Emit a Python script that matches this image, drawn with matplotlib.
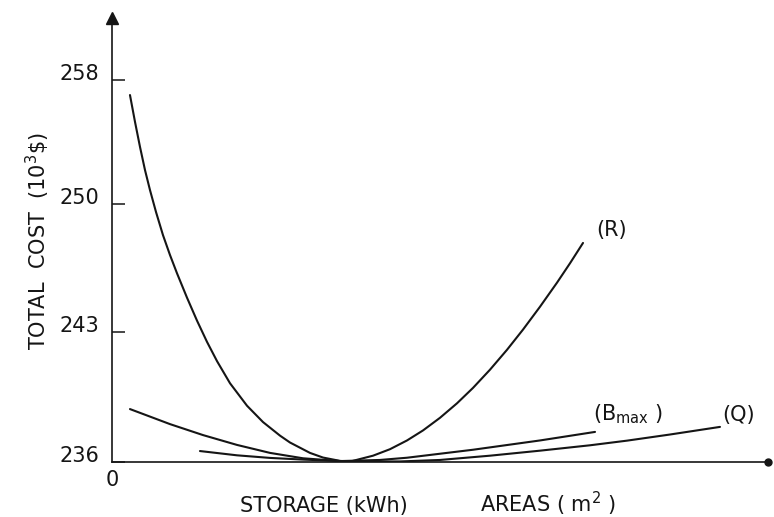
import numpy as np
import matplotlib
matplotlib.use("Agg")
import matplotlib.pyplot as plt

# x in arbitrary storage/area units (0..100), y in 10^3 $
r_x = [2.74, 3.51, 4.27, 5.03, 5.79, 6.71, 7.77, 8.84, 9.91, 11.43, 12.96, 14.48, 16.01, 17.99,
       20.58, 23.02, 25.61, 27.13, 30.18, 32.16, 34.76, 36.28,
       37.80, 39.79, 42.38, 44.97, 47.41, 50.00, 52.59, 55.03, 57.62, 60.21, 62.65, 65.24,
       67.84, 69.82, 71.80]
r_y = [257.03, 255.29, 253.68, 252.19, 250.90, 249.56, 248.30, 247.21, 246.21, 244.88, 243.62, 242.47,
       241.43, 240.24, 239.03, 238.15, 237.42, 237.05, 236.49, 236.24, 236.06, 236.02,
       236.16, 236.34, 236.69, 237.16, 237.70, 238.38, 239.16, 239.99, 240.97, 242.04, 243.13,
       244.38, 245.70, 246.76, 247.87]

bmax_x = [2.74, 8.84, 13.87, 19.05, 24.09, 29.12, 34.76, 40.85, 44.97, 55.03, 65.24, 73.63]
bmax_y = [238.85, 238.04, 237.45, 236.92, 236.49, 236.20, 236.05, 236.11, 236.23, 236.66, 237.16, 237.62]

q_x = [13.41, 19.05, 24.09, 29.12, 36.28, 43.90, 50.00, 57.62, 65.24, 72.87, 78.51, 85.06, 92.68]
q_y = [236.59, 236.36, 236.22, 236.13, 236.03, 236.03, 236.11, 236.34, 236.61, 236.90, 237.15,
       237.48, 237.89]

y_ticks = [236, 243, 250, 258]

# the hand drawn axis is not evenly scaled, ticks sit nearly equally spaced
YV = [220, 236, 243, 250, 258, 275]
YP = [-297, 0, 130, 258, 382, 645.5]


def fwd(v):
    return np.interp(v, YV, YP)


def inv(p):
    return np.interp(p, YP, YV)


plt.rcParams['font.family'] = 'DejaVu Sans'
ink = '#151515'
fs = 15

fig = plt.figure(figsize=(7.74, 5.17), dpi=100)
ax = fig.add_axes([112 / 774, 55 / 517, 656 / 774, 444 / 517])
ax.set_yscale('function', functions=(fwd, inv))
ax.set_xlim(0, 100)
ax.set_ylim(236, inv(444))

for xs, ys in [(r_x, r_y), (bmax_x, bmax_y), (q_x, q_y)]:
    ax.plot(xs, ys, color=ink, lw=1.5, solid_capstyle='round', solid_joinstyle='round')

for s in ['top', 'right']:
    ax.spines[s].set_visible(False)
for s in ['left', 'bottom']:
    ax.spines[s].set_linewidth(1.2)
    ax.spines[s].set_color(ink)

ax.set_yticks(y_ticks)
ax.set_yticklabels([str(t) for t in y_ticks])
ax.yaxis.set_minor_locator(plt.NullLocator())
ax.tick_params(axis='y', direction='in', length=9, width=1.1, pad=9, labelsize=fs, colors=ink)
for lab in ax.get_yticklabels():
    lab.set_verticalalignment('baseline')
ax.set_xticks([0])
ax.set_xticklabels(['0'])
ax.tick_params(axis='x', length=0, pad=6, labelsize=fs, colors=ink)

# arrow head on y axis, dot at end of x axis
ax.plot(0, 1, marker='^', color=ink, ms=8, transform=ax.transAxes, clip_on=False)
ax.plot(1, 0, marker='o', color=ink, ms=5, transform=ax.transAxes, clip_on=False)

ax.text(76.2, 248.6, '(R)', fontsize=fs, ha='center', va='center', color=ink)
ax.text(73.3, 238.26, r'(B$_{\mathrm{max}}$ )', fontsize=fs, ha='left', va='baseline', color=ink)
ax.text(93.0, 238.2, '(Q)', fontsize=fs, ha='left', va='baseline', color=ink)

fig.text(38 / 774, 1 - 241 / 517, r'TOTAL  COST  (10$^3$\$)', rotation=90, fontsize=fs,
         ha='center', va='center', color=ink)
fig.text(240 / 774, 1 - 512 / 517, 'STORAGE (kWh)', fontsize=fs, ha='left', va='baseline', color=ink)
fig.text(480 / 774, 1 - 512 / 517, r'AREAS ( m$^2$ )', fontsize=fs, ha='left', va='baseline', color=ink)

fig.savefig('out.png', dpi=100)
